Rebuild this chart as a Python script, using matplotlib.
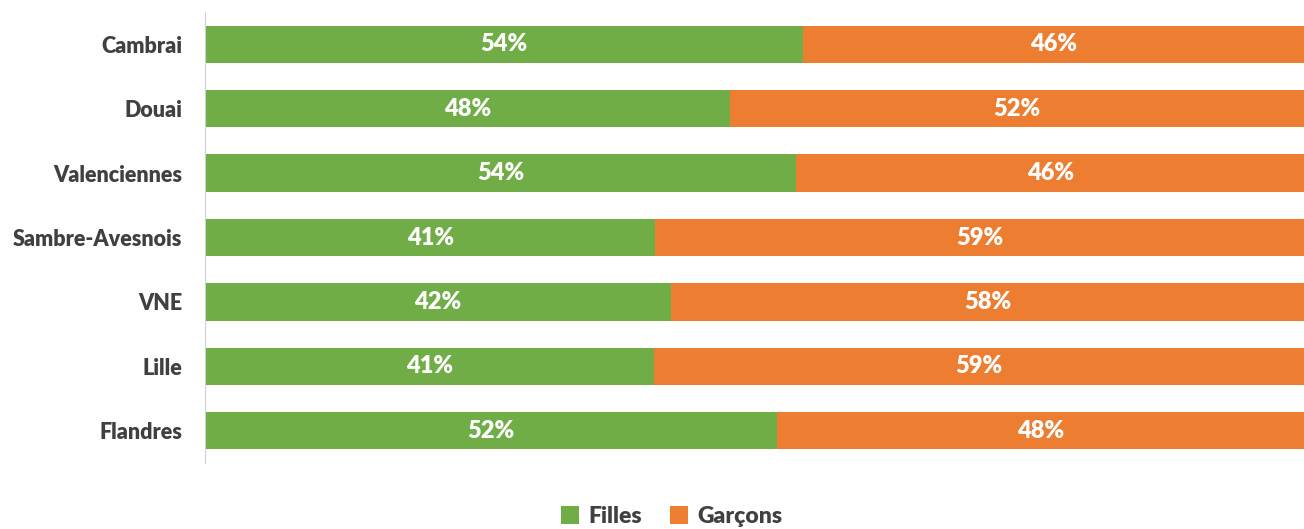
import numpy as np
from matplotlib import pyplot as plt

plt.rcParams['font.family'] = ['Lato', 'DejaVu Sans']

secteurs = ['Cambrai', 'Douai', 'Valenciennes', 'Sambre-Avesnois', 'VNE', 'Lille', 'Flandres']
filles = [54.4, 47.8, 53.8, 41.0, 42.4, 40.9, 52.1]
garcons = [100 - f for f in filles]

vert = '#70ad47'
orange = '#ed7d31'

fig = plt.figure(figsize=(13.04, 5.29), dpi=100)
ax = fig.add_axes([0.157, 0.125, 0.843, 0.852])

y = np.arange(len(secteurs))[::-1]
b1 = ax.barh(y, filles, height=0.58, color=vert, label='Filles')
b2 = ax.barh(y, garcons, left=filles, height=0.58, color=orange, label='Garçons')

for yy, f, g in zip(y, filles, garcons):
    ax.text(f / 2, yy, '%d%%' % round(f), ha='center', va='center',
            color='white', fontsize=17, fontweight='heavy')
    ax.text(f + g / 2, yy, '%d%%' % round(g), ha='center', va='center',
            color='white', fontsize=17, fontweight='heavy')

ax.set_xlim(0, 100)
ax.set_ylim(-0.5, len(secteurs) - 0.5)
ax.set_yticks(y)
ax.set_yticklabels(secteurs, fontsize=15.5, fontweight='heavy', color='#404040')
ax.tick_params(axis='y', length=0, pad=16)
ax.set_xticks([])
for s in ['top', 'right', 'bottom']:
    ax.spines[s].set_visible(False)
ax.spines['left'].set_color('#d0d0d0')

fig.legend(handles=[b1, b2], loc='lower center', bbox_to_anchor=(0.515, -0.035),
           ncol=2, frameon=False, handlelength=0.8, handleheight=0.8,
           columnspacing=1.2, handletextpad=0.4,
           prop={'size': 16.5, 'weight': 'heavy'}, labelcolor='#404040')

fig.savefig('out.png', dpi=100)
